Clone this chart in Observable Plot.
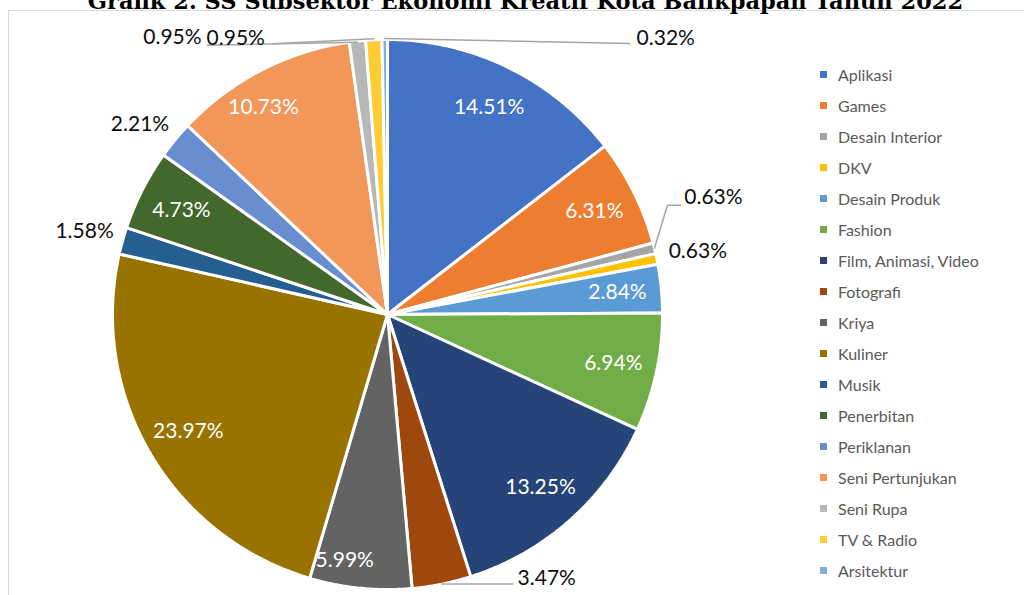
<!DOCTYPE html>
<html>
<head>
<meta charset="utf-8">
<script src="https://cdn.jsdelivr.net/npm/d3@7"></script>
<script src="https://cdn.jsdelivr.net/npm/@observablehq/plot@0.6"></script>
<style>
  html, body { margin: 0; padding: 0; background: #fff; overflow: hidden; }
  #wrap { position: relative; width: 1024px; height: 595px; overflow: hidden; }
  #box { position: absolute; left: 8px; top: 10px; width: 1100px; height: 700px; border: 1px solid #d9d9d9; box-sizing: border-box; }
  #chart { position: absolute; left: 0; top: 0; }
  #legend { position: absolute; left: 820px; top: 59px; font-family: Lato, "Open Sans", sans-serif; font-size: 16px; color: #595959; }
  #legend .item { height: 31px; display: flex; align-items: center; }
  #legend .sw { width: 7px; height: 7px; margin-right: 11px; }
</style>
</head>
<body>
<div id="wrap">
  <div id="box"></div>
  <div id="chart"></div>
  <div id="legend"></div>
</div>
<script>
const title = "Grafik 2. SS Subsektor Ekonomi Kreatif Kota Balikpapan Tahun 2022";
const categories = ["Aplikasi","Games","Desain Interior","DKV","Desain Produk","Fashion","Film, Animasi, Video","Fotografi","Kriya","Kuliner","Musik","Penerbitan","Periklanan","Seni Pertunjukan","Seni Rupa","TV & Radio","Arsitektur"];
const values = [14.51, 6.31, 0.63, 0.63, 2.84, 6.94, 13.25, 3.47, 5.99, 23.97, 1.58, 4.73, 2.21, 10.73, 0.95, 0.95, 0.32];
const colors = ["#4472C4","#ED7D31","#A5A5A5","#FFC000","#5B9BD5","#70AD47","#264478","#9E480E","#636363","#997300","#255E91","#43682B","#698ED0","#F1975A","#B7B7B7","#FFCD33","#7CAFDD"];

// layout (pixels)
const W = 1024, H = 595, CX = 387, CY = 314, R = 275;
const insideR = 0.84;
const insideNudge = { "Kriya": [-20, 16], "Seni Pertunjukan": [-18, -2] };
const outside = {
  "Desain Interior": { label: [59, -51], leader: [[0, 0], [13, -43], [26, -43]] },
  "DKV":             { label: [41, -8] },
  "Fotografi":       { label: [105, -6], leader: [[0, 0], [71, 0]] },
  "Musik":           { label: [-38, -9] },
  "Periklanan":      { label: [-35, -16] },
  "Seni Rupa":       { label: [-185, -4], leader: [[0, 1], [-150, 4]] },
  "TV & Radio":      { label: [-138, -2], leader: [[0, -1], [-101, 4]] },
  "Arsitektur":      { label: [281, -1], leader: [[0, -1], [245, 4]] }
};

const arcs = d3.pie().sort(null).value(d => d.value)(categories.map((name, i) => ({name, value: values[i]})));

// slice polygons in data units (radius = 1)
const poly = [];
for (const a of arcs) {
  const name = a.data.name;
  poly.push({name, x: 0, y: 0});
  const n = Math.max(2, Math.ceil((a.endAngle - a.startAngle) / 0.008));
  for (let k = 0; k <= n; k++) {
    const t = a.startAngle + (a.endAngle - a.startAngle) * k / n;
    poly.push({name, x: Math.sin(t), y: Math.cos(t)});
  }
  poly.push({name, x: 0, y: 0});
}

const fmt = v => v.toFixed(2) + "%";
const inLabels = [], outLabels = [], leaders = [];
for (const a of arcs) {
  const name = a.data.name;
  const mid = (a.startAngle + a.endAngle) / 2;
  if (outside[name]) {
    const o = outside[name];
    const ax = Math.sin(mid), ay = Math.cos(mid);
    outLabels.push({name, text: fmt(a.data.value), x: ax + o.label[0] / R, y: ay - o.label[1] / R});
    if (o.leader) o.leader.forEach(p => leaders.push({name, x: ax + p[0] / R, y: ay - p[1] / R}));
  } else {
    const nd = insideNudge[name] || [0, 0];
    inLabels.push({name, text: fmt(a.data.value), x: insideR * Math.sin(mid) + nd[0] / R, y: insideR * Math.cos(mid) - nd[1] / R});
  }
}

const font = "Lato, 'Open Sans', sans-serif";
const plot = Plot.plot({
  width: W, height: H,
  marginTop: 0, marginBottom: 0, marginLeft: 0, marginRight: 0,
  x: { domain: [-CX / R, (W - CX) / R], range: [0, W], axis: null },
  y: { domain: [-(H - CY) / R, CY / R], range: [H, 0], axis: null },
  color: { domain: categories, range: colors },
  style: { fontFamily: font, background: "transparent" },
  marks: [
    Plot.line(poly, { x: "x", y: "y", z: "name", fill: "name", stroke: "white", strokeWidth: 3, strokeLinejoin: "miter", curve: "linear" }),
    Plot.line(leaders, { x: "x", y: "y", z: "name", stroke: "#a6a6a6", strokeWidth: 1.5, curve: "linear" }),
    Plot.text(inLabels, { x: "x", y: "y", text: "text", fill: "white", fontSize: 21, textAnchor: "middle", lineAnchor: "middle" }),
    Plot.text(outLabels, { x: "x", y: "y", text: "text", fill: "#0d0d0d", fontSize: 21, textAnchor: "middle", lineAnchor: "middle" }),
    Plot.text([title], { text: d => d, frameAnchor: "top", dx: 13, dy: 8, lineAnchor: "bottom", fontFamily: "'DejaVu Serif', serif", fontWeight: "bold", fontSize: 22.5, fill: "#000" })
  ]
});
document.getElementById("chart").appendChild(plot);

const legend = document.getElementById("legend");
categories.forEach((c, i) => {
  const it = document.createElement("div");
  it.className = "item";
  const sw = document.createElement("span");
  sw.className = "sw";
  sw.style.background = colors[i];
  const lb = document.createElement("span");
  lb.textContent = c;
  it.appendChild(sw); it.appendChild(lb);
  legend.appendChild(it);
});
</script>
</body>
</html>
